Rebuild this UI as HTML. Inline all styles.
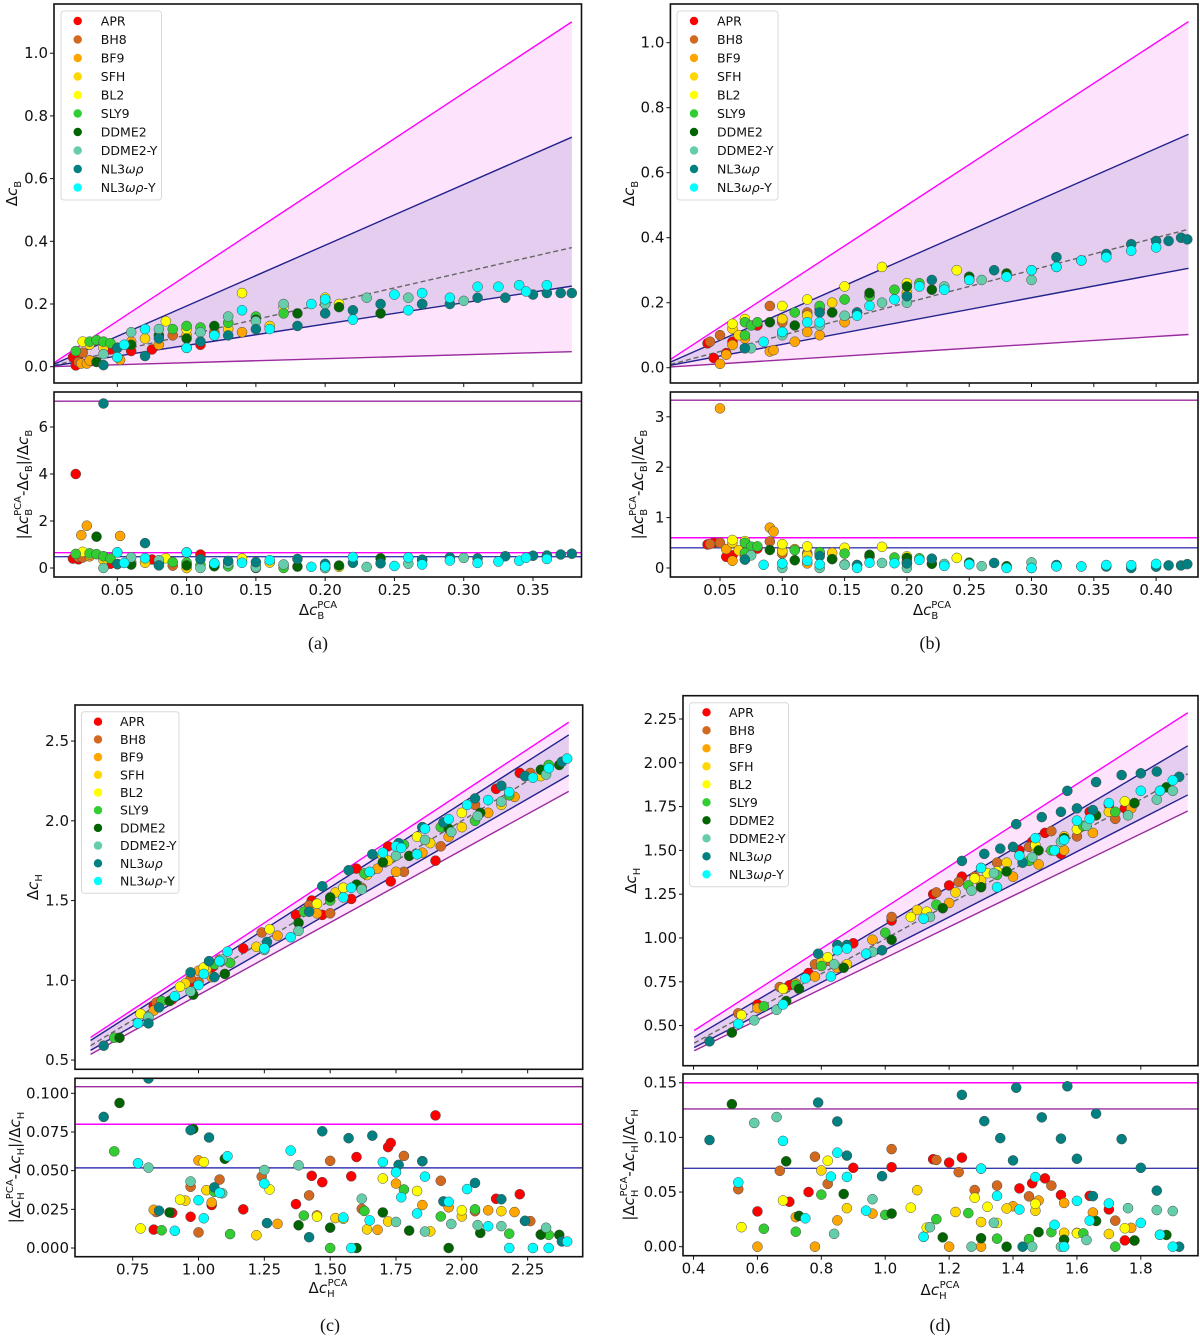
<!DOCTYPE html>
<html><head><meta charset="utf-8"><title>PCA comparison</title>
<style>
html,body{margin:0;padding:0;background:#fff;}
svg{display:block;font-family:"DejaVu Sans","Liberation Sans",sans-serif;}
</style></head>
<body>
<svg id="fig" width="1200" height="1341" viewBox="0 0 1200 1341" xmlns="http://www.w3.org/2000/svg"></svg>
<script>
// ---------- data ----------
const eosNames=['APR','BH8','BF9','SFH','BL2','SLY9','DDME2','DDME2-Y','NL3ωρ','NL3ωρ-Y'];
const eosColors=['#ff0000','#d2691e','#ffa500','#ffd700','#ffff00','#32cd32','#006400','#66cdaa','#008080','#00ffff'];

const seriesA=[
 [[0.018,0.03],[0.02,0.004],[0.022,0.035],[0.03,0.02],[0.045,0.055],[0.06,0.05],[0.075,0.055],[0.11,0.07]],
 [[0.022,0.015],[0.025,0.045],[0.05,0.06],[0.09,0.1],[0.12,0.11]],
 [[0.024,0.01],[0.028,0.01],[0.052,0.022],[0.03,0.02],[0.06,0.08],[0.08,0.07],[0.1,0.06],[0.12,0.1],[0.14,0.11],[0.05,0.03]],
 [[0.03,0.07],[0.04,0.06],[0.07,0.09],[0.1,0.1],[0.13,0.12],[0.16,0.13]],
 [[0.025,0.08],[0.085,0.145],[0.14,0.235],[0.17,0.19],[0.2,0.22],[0.21,0.2],[0.1,0.12]],
 [[0.03,0.08],[0.035,0.085],[0.04,0.08],[0.045,0.075],[0.02,0.05],[0.09,0.12],[0.1,0.13],[0.11,0.125],[0.13,0.14],[0.15,0.16],[0.17,0.17],[0.2,0.2]],
 [[0.035,0.015],[0.05,0.06],[0.06,0.07],[0.08,0.1],[0.1,0.09],[0.12,0.13],[0.15,0.15],[0.18,0.17],[0.21,0.19],[0.24,0.17],[0.27,0.2]],
 [[0.04,0.04],[0.06,0.11],[0.08,0.12],[0.11,0.11],[0.13,0.16],[0.15,0.145],[0.17,0.2],[0.2,0.2],[0.23,0.22],[0.26,0.22],[0.3,0.21]],
 [[0.04,0.005],[0.05,0.06],[0.07,0.034],[0.08,0.09],[0.11,0.08],[0.13,0.1],[0.15,0.12],[0.18,0.13],[0.2,0.17],[0.22,0.18],[0.24,0.2],[0.27,0.2],[0.29,0.2],[0.31,0.22],[0.33,0.22],[0.35,0.23],[0.36,0.235],[0.37,0.235],[0.378,0.235]],
 [[0.05,0.03],[0.055,0.07],[0.07,0.12],[0.1,0.06],[0.12,0.1],[0.14,0.18],[0.16,0.12],[0.19,0.2],[0.2,0.215],[0.22,0.15],[0.25,0.23],[0.26,0.18],[0.27,0.235],[0.29,0.22],[0.31,0.255],[0.325,0.255],[0.34,0.26],[0.345,0.24],[0.36,0.26]]
];
const seriesB=[
 [[0.04,0.075],[0.045,0.03],[0.055,0.045],[0.06,0.08],[0.08,0.13],[0.1,0.15],[0.13,0.18]],
 [[0.042,0.08],[0.05,0.1],[0.09,0.19],[0.1,0.14],[0.12,0.17],[0.14,0.17]],
 [[0.05,0.012],[0.055,0.04],[0.06,0.07],[0.07,0.09],[0.09,0.05],[0.093,0.054],[0.11,0.08],[0.12,0.11],[0.13,0.1],[0.15,0.14],[0.16,0.17],[0.2,0.22]],
 [[0.06,0.12],[0.065,0.1],[0.1,0.15],[0.12,0.16],[0.14,0.2],[0.17,0.22],[0.2,0.23]],
 [[0.06,0.135],[0.07,0.15],[0.1,0.19],[0.12,0.21],[0.15,0.25],[0.18,0.31],[0.2,0.26],[0.24,0.3]],
 [[0.07,0.14],[0.075,0.13],[0.08,0.14],[0.07,0.1],[0.11,0.17],[0.13,0.19],[0.15,0.21],[0.17,0.22],[0.19,0.24],[0.21,0.26]],
 [[0.07,0.06],[0.09,0.14],[0.11,0.13],[0.14,0.17],[0.17,0.23],[0.2,0.25],[0.22,0.24],[0.25,0.28],[0.28,0.29],[0.32,0.31]],
 [[0.075,0.06],[0.1,0.1],[0.13,0.13],[0.15,0.16],[0.18,0.2],[0.2,0.2],[0.23,0.25],[0.26,0.27],[0.3,0.27]],
 [[0.07,0.06],[0.1,0.11],[0.13,0.17],[0.16,0.17],[0.2,0.22],[0.22,0.27],[0.25,0.27],[0.27,0.3],[0.3,0.3],[0.32,0.34],[0.34,0.33],[0.36,0.35],[0.38,0.38],[0.4,0.39],[0.41,0.39],[0.42,0.4],[0.425,0.395]],
 [[0.085,0.08],[0.1,0.11],[0.12,0.14],[0.13,0.14],[0.16,0.16],[0.17,0.19],[0.19,0.21],[0.21,0.25],[0.23,0.24],[0.25,0.27],[0.28,0.28],[0.3,0.3],[0.32,0.31],[0.34,0.33],[0.36,0.34],[0.38,0.36],[0.4,0.37]]
];
const seriesC=[
 [[0.83,0.84],[0.9,0.88],[0.97,0.99],[1.17,1.2],[1.37,1.41],[1.43,1.5],[1.47,1.41],[1.58,1.51],[1.72,1.84],[1.73,1.62],[1.85,1.96],[1.9,1.75],[2.13,2.2],[2.22,2.3],[1.05,1.08],[1.6,1.7]],
 [[0.84,0.86],[1.0,0.99],[0.97,1.01],[1.24,1.3],[1.42,1.47],[1.5,1.42],[1.62,1.58],[1.78,1.68],[1.92,1.84],[2.05,2.1],[2.26,2.3],[1.08,1.13]],
 [[0.83,0.81],[1.05,1.02],[1.0,1.06],[1.55,1.58],[1.45,1.42],[1.68,1.7],[1.75,1.68],[1.85,1.8],[1.95,1.9],[2.1,2.05],[2.2,2.15],[1.3,1.28]],
 [[0.95,0.98],[1.03,1.07],[1.22,1.21],[1.52,1.55],[1.64,1.66],[1.72,1.75],[1.88,1.86],[2.0,1.96],[2.15,2.1],[2.3,2.28]],
 [[0.78,0.79],[0.93,0.96],[1.27,1.32],[1.45,1.48],[1.55,1.58],[1.7,1.78],[1.83,1.9],[2.0,2.05],[2.24,2.28],[1.02,1.08]],
 [[0.68,0.64],[0.86,0.87],[1.06,1.1],[1.12,1.11],[1.4,1.43],[1.5,1.5],[1.63,1.67],[1.78,1.85],[1.92,1.96],[2.05,2.0],[2.18,2.16],[2.33,2.35]],
 [[0.7,0.64],[0.89,0.87],[0.98,0.91],[1.1,1.04],[1.38,1.36],[1.5,1.52],[1.6,1.6],[1.7,1.74],[1.8,1.78],[1.95,1.95],[2.07,2.05],[2.3,2.32],[2.37,2.35]],
 [[0.81,0.77],[0.97,0.93],[1.09,1.13],[1.25,1.19],[1.38,1.31],[1.62,1.57],[1.75,1.78],[1.86,1.88],[1.96,1.93],[2.06,2.03],[2.15,2.12],[2.32,2.29]],
 [[0.64,0.59],[0.81,0.73],[0.85,0.83],[0.97,1.05],[1.04,1.12],[1.26,1.24],[1.47,1.59],[1.57,1.69],[1.66,1.79],[1.76,1.86],[1.85,1.96],[1.93,1.99],[2.05,2.14],[2.15,2.22],[2.24,2.28],[2.38,2.37],[1.42,1.43],[1.06,1.02]],
 [[0.77,0.73],[0.91,0.9],[1.0,0.97],[1.02,1.04],[1.08,1.12],[1.11,1.18],[1.25,1.2],[1.35,1.27],[1.55,1.52],[1.58,1.58],[1.65,1.68],[1.7,1.8],[1.75,1.84],[1.77,1.83],[1.86,1.95],[1.95,2.01],[2.02,2.1],[2.1,2.13],[2.18,2.18],[2.27,2.27],[2.33,2.33],[2.4,2.39],[1.83,1.79]]
];
const seriesD=[
 [[0.6,0.62],[0.7,0.73],[0.76,0.8],[0.9,0.97],[1.02,1.1],[1.15,1.25],[1.2,1.3],[1.24,1.35],[1.3,1.4],[1.42,1.5],[1.46,1.55],[1.5,1.6],[1.55,1.48],[1.64,1.72],[1.7,1.76],[1.75,1.74]],
 [[0.54,0.57],[0.67,0.72],[0.78,0.85],[0.82,0.87],[1.02,1.12],[1.16,1.26],[1.23,1.32],[1.28,1.35],[1.35,1.43],[1.45,1.52],[1.52,1.61],[1.6,1.58],[1.72,1.68]],
 [[0.6,0.6],[0.72,0.74],[0.78,0.78],[0.85,0.83],[0.96,0.99],[1.12,1.11],[1.2,1.2],[1.3,1.3],[1.4,1.35],[1.48,1.42],[1.56,1.5],[1.65,1.6],[1.77,1.74]],
 [[0.8,0.86],[0.88,0.85],[1.1,1.16],[1.22,1.26],[1.3,1.33],[1.38,1.43],[1.47,1.52],[1.56,1.58],[1.7,1.72],[1.78,1.77]],
 [[0.55,0.56],[0.68,0.71],[0.82,0.89],[1.08,1.12],[1.13,1.15],[1.28,1.34],[1.32,1.37],[1.35,1.38],[1.47,1.53],[1.6,1.62],[1.75,1.78]],
 [[0.62,0.61],[0.72,0.73],[0.8,0.84],[1.0,1.03],[1.16,1.19],[1.26,1.3],[1.35,1.36],[1.45,1.44],[1.52,1.5],[1.62,1.64],[1.72,1.72],[1.86,1.84]],
 [[0.52,0.46],[0.69,0.64],[0.73,0.71],[0.87,0.83],[1.02,0.99],[1.18,1.17],[1.3,1.29],[1.38,1.38],[1.48,1.5],[1.56,1.57],[1.66,1.7],[1.78,1.77],[1.88,1.86]],
 [[0.59,0.53],[0.66,0.59],[0.84,0.85],[0.96,0.92],[1.14,1.12],[1.27,1.27],[1.34,1.37],[1.46,1.46],[1.55,1.55],[1.63,1.64],[1.76,1.7],[1.85,1.79],[1.9,1.84]],
 [[0.45,0.41],[0.79,0.91],[0.85,0.96],[0.88,0.96],[0.99,0.93],[1.24,1.44],[1.31,1.48],[1.36,1.51],[1.4,1.52],[1.41,1.65],[1.49,1.69],[1.55,1.72],[1.57,1.84],[1.6,1.74],[1.66,1.89],[1.74,1.93],[1.8,1.94],[1.85,1.95],[1.92,1.92],[1.43,1.43],[1.65,1.73]],
 [[0.54,0.51],[0.68,0.62],[0.75,0.77],[0.83,0.78],[0.85,0.93],[0.88,0.94],[0.94,0.91],[1.12,1.11],[1.3,1.4],[1.35,1.29],[1.42,1.47],[1.47,1.57],[1.53,1.5],[1.56,1.56],[1.6,1.67],[1.64,1.68],[1.7,1.77],[1.8,1.84],[1.86,1.84],[1.9,1.9]]
];
const slopesA=[2.91,1.937,1.005,0.68,0.127];
const slopesB=[2.5,1.686,1.0,0.718,0.24];
const slopesC=[1.088,1.055,1.0,0.95,0.908];
const slopesD=[1.174,1.077,0.995,0.933,0.886];
const hlinesA=[7.1,0.65,0.48];
const hlinesB=[3.33,0.6,0.4];
const hlinesC=[0.1043,0.080,0.0518];
const hlinesD=[0.126,0.15,0.0717];
const xticksA=['0.05','0.10','0.15','0.20','0.25','0.30','0.35'];
const xticksB=['0.05','0.10','0.15','0.20','0.25','0.30','0.35','0.40'];
const xticksC=['0.75','1.00','1.25','1.50','1.75','2.00','2.25'];
const xticksD=['0.4','0.6','0.8','1.0','1.2','1.4','1.6','1.8'];
const ytopA=['0.0','0.2','0.4','0.6','0.8','1.0'];
const ytopB=['0.0','0.2','0.4','0.6','0.8','1.0'];
const ytopC=['0.5','1.0','1.5','2.0','2.5'];
const ytopD=['0.50','0.75','1.00','1.25','1.50','1.75','2.00','2.25'];
const ybotA=['0','2','4','6'];
const ybotB=['0','1','2','3'];
const ybotC=['0.000','0.025','0.050','0.075','0.100'];
const ybotD=['0.00','0.05','0.10','0.15'];

const panels=[
 {id:'a',series:seriesA,slopes:slopesA,hl:hlinesA,xt:xticksA,yt:ytopA,yb:ybotA,
  xd:[0.0043,0.385],lx:[0.0043,0.378],L:54,R:581.5,
  top:{t:4,b:383,yd:[-0.052,1.157]},bot:{t:392,b:577,yd:[-0.383,7.49]},
  leg:{x0:61,x1:161.5,y0:11,y1:200,mx:77.7,tx:100.8,ey:21,step:18.5},
  yl1:12,yl2:23,xlab:[318,615],cap:[318,649],sub:'B'},
 {id:'b',series:seriesB,slopes:slopesB,hl:hlinesB,xt:xticksB,yt:ytopB,yb:ybotB,
  xd:[0.0102,0.4336],lx:[0.0102,0.426],L:670.4,R:1198,
  top:{t:4,b:383,yd:[-0.047,1.119]},bot:{t:392,b:577,yd:[-0.179,3.492]},
  leg:{x0:677,x1:778,y0:11,y1:200,mx:694,tx:717,ey:21,step:18.5},
  yl1:629,yl2:638,xlab:[932,615],cap:[930,649],sub:'B'},
 {id:'c',series:seriesC,slopes:slopesC,hl:hlinesC,xt:xticksC,yt:ytopC,yb:ybotC,
  xd:[0.531,2.459],lx:[0.59,2.406],L:75,R:582.7,
  top:{t:705,b:1069.3,yd:[0.442,2.726]},bot:{t:1078.3,b:1256.7,yd:[-0.00561,0.1097]},
  leg:{x0:81.5,x1:179,y0:711.7,y1:893.3,mx:98,tx:120,ey:721.7,step:17.7},
  yl1:33,yl2:15,xlab:[328,1293],cap:[330,1331],sub:'H'},
 {id:'d',series:seriesD,slopes:slopesD,hl:hlinesD,xt:xticksD,yt:ytopD,yb:ybotD,
  xd:[0.367,1.979],lx:[0.402,1.947],L:683,R:1198,
  top:{t:695.7,b:1065.7,yd:[0.271,2.383]},bot:{t:1074,b:1255.7,yd:[-0.00824,0.158]},
  leg:{x0:689.6,x1:788.5,y0:702.7,y1:886.7,mx:706.5,tx:729,ey:712.3,step:18},
  yl1:631,yl2:629,xlab:[940,1295],cap:[940,1331],sub:'H'}
];

const NS='http://www.w3.org/2000/svg';
const svg=document.getElementById('fig');
function mk(tag,attrs,parent){const e=document.createElementNS(NS,tag);for(const k in attrs)e.setAttribute(k,attrs[k]);(parent||svg).appendChild(e);return e;}
const defs=mk('defs',{});

function mathLabel(sub,kind){
  const c='<tspan font-style="italic">c</tspan>';
  const s='<tspan font-size="10" dy="4">'+sub+'</tspan>';
  const sp='<tspan font-size="10" dx="-7" dy="-11">PCA</tspan>';
  if(kind==='y') return 'Δ'+c+s;
  if(kind==='x') return 'Δ'+c+s+sp;
  return '|Δ'+c+s+sp+'<tspan dy="7">-Δ</tspan>'+c+'<tspan font-size="10" dy="4">'+sub+'</tspan><tspan dy="-4">|/Δ</tspan>'+c+'<tspan font-size="10" dy="4">'+sub+'</tspan>';
}

panels.forEach(p=>{
  const g=mk('g',{});
  
  
  const X=v=>p.L+(v-p.xd[0])/(p.xd[1]-p.xd[0])*(p.R-p.L);
  ['top','bot'].forEach(which=>{
    const ax=p[which];
    const Y=v=>ax.b-(v-ax.yd[0])/(ax.yd[1]-ax.yd[0])*(ax.b-ax.t);
    const ag=mk('g',{},g);
    
    
    const cid='clip-'+p.id+which;
    const cp=mk('clipPath',{id:cid},defs);
    mk('rect',{x:p.L,y:ax.t,width:p.R-p.L,height:ax.b-ax.t},cp);
    const inner=mk('g',{'clip-path':'url(#'+cid+')'},ag);
    if(which==='top'){
      const s=p.slopes, x0=p.lx[0], x1=p.lx[1];
      const band=(k1,k2)=>[X(x0)+','+Y(k1*x0),X(x1)+','+Y(k1*x1),X(x1)+','+Y(k2*x1),X(x0)+','+Y(k2*x0)].join(' ');
      const pink=mk('polygon',{points:band(s[0],s[4]),fill:'#fde3fb'},inner);
      
      
      const lav=mk('polygon',{points:band(s[1],s[3]),fill:'#e4cdef'},inner);
      
      
      const lineCols=['#ff00ff','#23238e','#666666','#23238e','#9a2a9e'];
      const lineNames=['upper-bound-line','upper-inner-line','fit-line','lower-inner-line','lower-bound-line'];
      s.forEach((k,i)=>{
        const ln=mk('line',{x1:X(x0),y1:Y(k*x0),x2:X(x1),y2:Y(k*x1),stroke:lineCols[i],'stroke-width':1.4},inner);
        if(i===2){ln.setAttribute('stroke-dasharray','5,3');}
        
        
      });
    } else {
      const hc=['#9a2a9e','#ff00ff','#3a3ab0'];
      const hn=['residual-max-line','residual-band-line','residual-inner-line'];
      p.hl.forEach((v,i)=>{
        const ln=mk('line',{x1:p.L,y1:Y(v),x2:p.R,y2:Y(v),stroke:hc[i],'stroke-width':1.4},inner);
        
        
      });
    }
    p.series.forEach((ser,si)=>{
      ser.forEach(pt=>{
        const yv= which==='top'? pt[1] : Math.abs(pt[0]-pt[1])/pt[1];
        const c=mk('circle',{cx:X(pt[0]),cy:Y(yv),r:5,fill:eosColors[si],stroke:'#4a4a4a','stroke-width':0.5},inner);
        
        
      });
    });
    const fr=mk('rect',{x:p.L,y:ax.t,width:p.R-p.L,height:ax.b-ax.t,fill:'none',stroke:'#111','stroke-width':1.6},ag);
    
    
    const yl=which==='top'?p.yt:p.yb;
    yl.forEach(t=>{
      const yy=Y(parseFloat(t));
      mk('line',{x1:p.L-4,y1:yy,x2:p.L,y2:yy,stroke:'#111','stroke-width':1},ag);
      const tx=mk('text',{x:p.L-6,y:yy+5,'text-anchor':'end','font-size':15,fill:'#111'},ag);
      tx.textContent=t;
      
      
    });
    p.xt.forEach(t=>{
      const xx=X(parseFloat(t));
      mk('line',{x1:xx,y1:ax.b,x2:xx,y2:ax.b+4,stroke:'#111','stroke-width':1},ag);
      if(which==='bot'){
        const tx=mk('text',{x:xx,y:ax.b+18,'text-anchor':'middle','font-size':15,fill:'#111'},ag);
        tx.textContent=t;
        
        
      }
    });
    const cy=(ax.t+ax.b)/2;
    const lx=which==='top'?p.yl1:p.yl2;
    const yt=mk('text',{x:0,y:0,'text-anchor':'middle','font-size':15,fill:'#111',transform:'translate('+(lx+5)+','+cy+') rotate(-90)'},ag);
    yt.innerHTML=mathLabel(p.sub,which==='top'?'y':'r');
    
    
  });
  const xl=mk('text',{x:p.xlab[0],y:p.xlab[1],'text-anchor':'middle','font-size':15,fill:'#111'},g);
  xl.innerHTML=mathLabel(p.sub,'x');
  
  
  const cap=mk('text',{x:p.cap[0],y:p.cap[1],'text-anchor':'middle','font-size':18,'font-family':'"Liberation Serif",serif',fill:'#111'},g);
  cap.textContent='('+p.id+')';
  
  
  const lg=mk('g',{},g);
  
  
  const L=p.leg;
  mk('rect',{x:L.x0,y:L.y0,width:L.x1-L.x0,height:L.y1-L.y0,rx:3,fill:'#fff','fill-opacity':0.85,stroke:'#d8d8d8','stroke-width':1},lg);
  eosNames.forEach((n,i)=>{
    const yy=L.ey+i*L.step;
    const ent=mk('g',{},lg);
    
    
    mk('circle',{cx:L.mx,cy:yy,r:4.2,fill:eosColors[i]},ent);
    const t=mk('text',{x:L.tx,y:yy+4.5,'font-size':12.5,fill:'#111'},ent);
    if(n.indexOf('ωρ')>=0){
      t.innerHTML='NL3<tspan font-style="italic">ωρ</tspan>'+(n.endsWith('-Y')?'-Y':'');
    } else t.textContent=n;
  });
});
</script>
</body></html>
